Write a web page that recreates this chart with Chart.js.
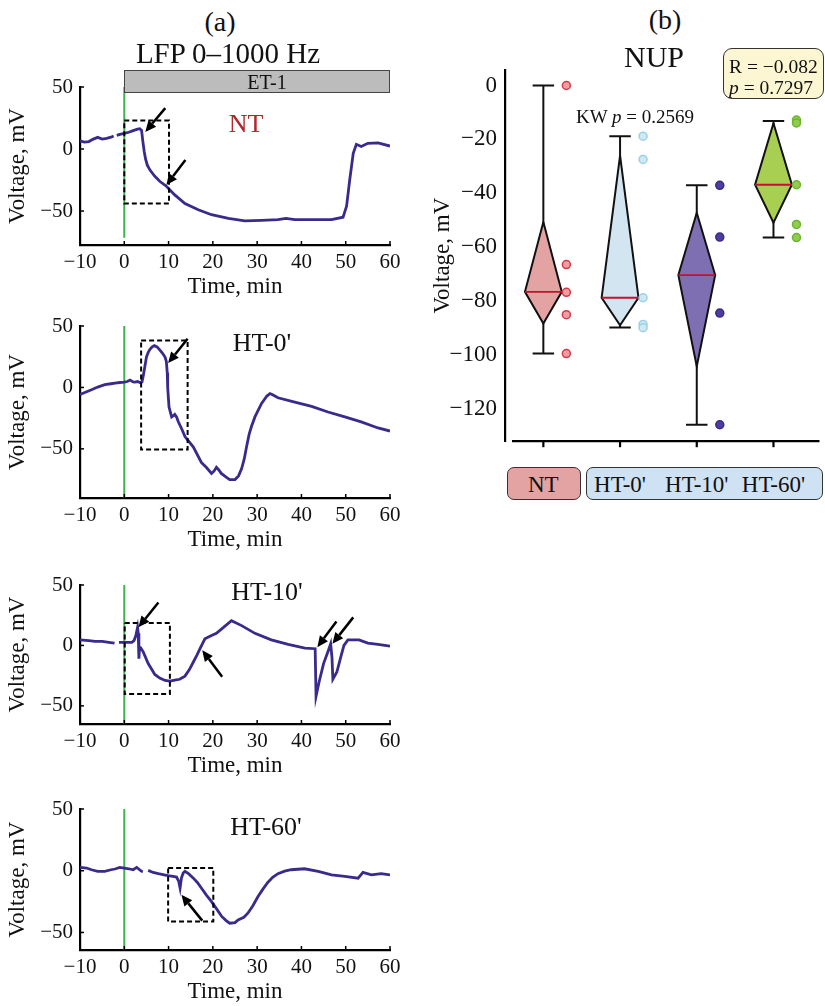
<!DOCTYPE html>
<html><head><meta charset="utf-8">
<script src="https://cdn.jsdelivr.net/npm/chart.js@4.4.1/dist/chart.umd.min.js"></script>
<style>
body{margin:0;width:825px;height:1006px;background:#fff;position:relative;overflow:hidden;font-family:"Liberation Serif","Times New Roman",serif;color:#111;}
canvas{position:absolute;}
.t{position:absolute;transform:translate(-50%,-50%);line-height:1;white-space:nowrap;}
.box{position:absolute;box-sizing:border-box;}
</style></head><body>
<canvas id="pNT" width="415" height="241" style="left:0;top:60px"></canvas>
<canvas id="pHT0" width="415" height="249" style="left:0;top:305px"></canvas>
<canvas id="pHT10" width="415" height="218" style="left:0;top:562px"></canvas>
<canvas id="pHT60" width="415" height="221" style="left:0;top:785px"></canvas>
<canvas id="pB" width="405" height="423" style="left:420px;top:40px"></canvas>

<div class="t" style="left:220px;top:22px;font-size:28px">(a)</div>
<div class="t" style="left:228px;top:53px;font-size:29px">LFP 0–1000 Hz</div>
<div class="box" style="left:124px;top:70px;width:266px;height:23px;background:#bcbcbc;border:1px solid #444"></div>
<div class="t" style="left:267px;top:82px;font-size:20px">ET-1</div>
<div class="t" style="left:246px;top:124px;font-size:26px;color:#b3242b">NT</div>
<div class="t" style="left:262px;top:343px;font-size:26px">HT-0'</div>
<div class="t" style="left:267px;top:592px;font-size:26px">HT-10'</div>
<div class="t" style="left:266px;top:827px;font-size:26px">HT-60'</div>

<div class="t" style="left:665px;top:20px;font-size:28px">(b)</div>
<div class="t" style="left:654px;top:57px;font-size:30px">NUP</div>
<div class="t" style="left:635px;top:116px;font-size:19px">KW <i>p</i> = 0.2569</div>
<div class="box" style="left:723px;top:48px;width:101px;height:51px;background:#fcf6d2;border:1.5px solid #333;border-radius:9px"></div>
<div style="position:absolute;left:729px;top:56px;font-size:19.5px;line-height:21px;white-space:nowrap">R = −0.082<br><i>p</i> = 0.7297</div>
<div class="box" style="left:507px;top:467px;width:74px;height:33px;background:#e3a3a3;border:1.5px solid #333;border-radius:7px"></div>
<div class="box" style="left:586px;top:467px;width:237px;height:33px;background:#cfe2f3;border:1.5px solid #333;border-radius:7px"></div>
<div id="catLabels"></div>

<script>
// ---------- data ----------
const timeTicks = [-10, 0, 10, 20, 30, 40, 50, 60];
const voltTicksA = [-50, 0, 50];
const voltTicksB = [0, -20, -40, -60, -80, -100, -120];

const ntTime = [-10,-9,-8,-7,-6,-5,-4,-3,-2.4,-2.1,-1.7,-1,0,1,2,3,3.5,3.9,4.2,4.5,4.8,5.2,5.8,6.9,8,9.5,11.4,13.7,16.7,19.7,23.5,27.2,31,34.7,36.5,38.5,42.3,46.8,49.4,50.2,50.9,51.7,52.4,53.5,55,57.3,60];
const ntVolt = [6.5,5.5,6,8,9.4,8,8.6,9.5,10.5,null,11,11.8,12.6,13.5,14.8,16,16.4,15,6,-2,-8,-13,-17,-22,-26,-30,-37,-44,-49,-53,-56,-58,-57.5,-57,-56,-57,-57,-57,-55,-46,-25,-3.5,3.8,2,4.6,5,2.4];

const ht0Time = [-10,-8.5,-7.4,-6,-4.4,-3,-2.1,-1,0,0.7,1.3,2,2.4,3,3.5,4,4.3,4.7,5,5.4,5.8,6.3,6.8,7.4,8,8.6,9.2,9.5,9.7,9.8,10.1,10.7,11.1,11.4,11.8,12.2,13,13.7,15.6,17.4,18.5,19.7,20.3,20.8,21.3,21.9,23,23.8,25,25.8,26.5,27.1,27.6,28.2,28.7,29.5,31,32.2,32.9,33.5,34.7,38.5,42.3,46,49.8,53.5,57.3,60];
const ht0Volt = [-5.7,-3.5,-1.9,0.3,2.2,3,3.5,4,4.3,4.8,6,4.5,4.3,4.8,4,4.5,9.8,18,24.7,28.5,31,33,34,33,30.6,28,24.7,21,12,0,-16,-24,-23,-22,-24,-28,-34,-40,-48.5,-61,-65,-70,-68,-65,-67,-70,-73,-75,-75,-72,-66,-58,-48.5,-38,-32,-24,-13,-7,-5,-6,-8.4,-12,-15.4,-20,-24,-28,-33,-35.5];

const ht10Time = [-10,-8,-6.6,-5,-3.5,-2.2,-1.7,-1.2,0,1,1.7,2.2,2.6,3.0,3.15,3.3,3.45,3.7,4.3,5.4,6.9,8,9.2,10.3,11.4,12.5,13.7,14.7,15.6,16.4,17.1,18.2,19.7,20.8,22,24.2,26.5,29.5,33.2,37,40.8,43.1,43.3,44,45,46,46.6,46.9,47.1,48,49,49.6,50.5,53,55,57.3,60];
const ht10Volt = [4.6,4,3.3,3.3,2.5,1.9,null,2.5,2.5,2.5,2.5,4,8,15,10,-11,-1.4,-2,-5.5,-15,-24,-27,-29,-29.5,-28.7,-28,-25.4,-20,-13.7,-8,-2.7,5.5,8.2,10,13.7,20.5,16.4,10,4.6,0.8,-2.2,-2.7,-42,-30,-15,-5,1.4,-10,-28,-22,-8,0,4.6,4.6,1.9,0.8,-0.6];

const ht60Time = [-10,-8.5,-7.4,-6,-4.4,-3,-2.1,-1,0,1,2,2.8,3.9,4.2,4.8,5.4,6.5,7.7,9,9.9,11,11.8,12.3,12.6,12.9,13.3,13.7,14.5,15.6,16.5,17.4,18.5,19.7,21,22,23,23.8,25,25.7,27,27.9,29,30.2,31.3,32.4,33.5,34.7,36.2,37.7,40.7,43.8,46.8,49.8,52.8,53.9,55.8,58,60];
const ht60Volt = [2.7,2.2,0.8,-0.5,-0.5,0.8,1.4,2.7,2.2,1.6,0.8,2.7,-0.5,-0.8,null,0.3,-1.4,-2.4,-3.3,-4,-4.6,-5.1,-8.7,-14,-6,-1.9,-0.5,-2.4,-6,-9.5,-14,-19.5,-25,-31.7,-37,-40.4,-42.5,-42,-39.8,-37.7,-34.4,-28.5,-20.9,-14.9,-9.5,-5.4,-2.4,-0.3,0.8,1.6,-0.5,-3.3,-4.6,-6,-1.4,-3.3,-2.4,-3.3];

const groups = ["NT", "HT-0'", "HT-10'", "HT-60'"];
const diamondTop    = [-50.6, -26.0, -47.2, -14.0];
const diamondMedian = [-76.5, -78.7, -70.3, -36.8];
const diamondBottom = [-88.3, -88.9, -104.2, -50.9];
const whiskerTop    = [0, -18.8, -37.0, -13.2];
const whiskerBottom = [-99.4, -89.7, -125.8, -56.4];
const groupPoints = [
  [0, -66.4, -76.7, -85.0, -99.4],
  [-18.8, -27.4, -78.7, -88.6, -89.8],
  [-37.0, -56.2, -84.4, -125.8],
  [-12.8, -13.9, -36.8, -51.5, -56.4]
];

// ---------- styles ----------
const F = "'Liberation Serif','Times New Roman',serif";
const TRACE = '#3b2a8c';
const GREEN = '#3cb44b';
const fills   = ['#e3a3a3', '#d2e5f0', '#7d6fb2', '#a8cf52'];
const ptFill  = ['#ef9ea4', '#cfe9f4', '#4d3d9e', '#8fcd4c'];
const ptEdge  = ['#d23a46', '#9dd0e6', '#3a2a8a', '#6cb534'];
Chart.defaults.font.family = F;
Chart.defaults.color = '#111';

const fmt = v => v < 0 ? '\u2212' + (-v) : String(v);

function drawArrow(ctx, x1, y1, x2, y2) {
  const a = Math.atan2(y2 - y1, x2 - x1), L = 11, W = 5;
  const bx = x2 - L * Math.cos(a), by = y2 - L * Math.sin(a);
  ctx.strokeStyle = '#000'; ctx.fillStyle = '#000'; ctx.lineWidth = 2.5;
  ctx.beginPath(); ctx.moveTo(x1, y1); ctx.lineTo(bx, by); ctx.stroke();
  ctx.beginPath(); ctx.moveTo(x2, y2);
  ctx.lineTo(bx - W * Math.sin(a), by + W * Math.cos(a));
  ctx.lineTo(bx + W * Math.sin(a), by - W * Math.cos(a));
  ctx.closePath(); ctx.fill();
}

function tracePanel(id, time, volt, cfg) {
  const pts = time.map((t, i) => ({x: t, y: volt[i]}));
  const b = cfg.box;
  const boxPts = [{x:b[0],y:b[3]},{x:b[1],y:b[3]},{x:b[1],y:b[2]},{x:b[0],y:b[2]},{x:b[0],y:b[3]}];
  const arrows = cfg.arrows;
  new Chart(document.getElementById(id), {
    type: 'line',
    data: { datasets: [
      { data: [{x:0,y:50},{x:0,y:cfg.greenEnd}], borderColor: GREEN, borderWidth: 2, pointRadius: 0, order: 3 },
      { data: pts, borderColor: TRACE, borderWidth: 2.8, pointRadius: 0, spanGaps: false, tension: 0, order: 2 },
      { data: boxPts, borderColor: '#000', borderWidth: 2, borderDash: [5, 3], pointRadius: 0, order: 1 }
    ]},
    options: {
      responsive: false, animation: false,
      layout: { padding: { top: cfg.padTop, right: 25, left: 0, bottom: 0 } },
      plugins: { legend: { display: false }, tooltip: { enabled: false } },
      scales: {
        x: { type: 'linear', min: -10, max: 60,
          afterBuildTicks: s => { s.ticks = timeTicks.map(v => ({value: v})); },
          afterFit: s => { s.height = 56; },
          grid: { display: false, drawTicks: false },
          border: { display: true, color: '#000', width: 2.2 },
          ticks: { font: { size: 21 }, color: '#111', padding: 5, maxRotation: 0, autoSkip: false, callback: fmt },
          title: { display: true, text: 'Time, min', font: { size: 23 }, color: '#111', padding: { top: 0, bottom: 0 } } },
        y: { min: cfg.yMin, max: 50,
          afterBuildTicks: s => { s.ticks = voltTicksA.map(v => ({value: v})); },
          afterFit: s => { s.width = 80; },
          grid: { display: false, drawTicks: false },
          border: { display: true, color: '#000', width: 2.2 },
          ticks: { font: { size: 21 }, color: '#111', padding: 7, callback: fmt },
          title: { display: true, text: 'Voltage, mV', font: { size: 23 }, color: '#111', padding: { top: 4, bottom: 0 } } }
      }
    },
    plugins: [{
      id: 'deco',
      afterDraw(chart) {
        const {ctx, chartArea: a, scales: {x, y}} = chart;
        ctx.save();
        ctx.strokeStyle = '#000'; ctx.lineWidth = 1.5;
        timeTicks.forEach(v => { const p = x.getPixelForValue(v); ctx.beginPath(); ctx.moveTo(p, a.bottom); ctx.lineTo(p, a.bottom - 4); ctx.stroke(); });
        voltTicksA.forEach(v => { const p = y.getPixelForValue(v); ctx.beginPath(); ctx.moveTo(a.left, p); ctx.lineTo(a.left + 4, p); ctx.stroke(); });
        arrows.forEach(r => drawArrow(ctx, x.getPixelForValue(r[0]), y.getPixelForValue(r[1]), x.getPixelForValue(r[2]), y.getPixelForValue(r[3])));
        ctx.restore();
      }
    }]
  });
}

tracePanel('pNT', ntTime, ntVolt, { padTop: 27, yMin: -77.4, greenEnd: -71.5,
  box: [0, 10.1, -44, 23], arrows: [[9.25, 33, 4.74, 13.7], [13.8, -8.9, 9.5, -29]] });
tracePanel('pHT0', ht0Time, ht0Volt, { padTop: 21, yMin: -90, greenEnd: -90,
  box: [3.8, 14.3, -50.5, 38.2], arrows: [[14.3, 39.6, 9.9, 19.8]] });
tracePanel('pHT10', ht10Time, ht10Volt, { padTop: 23, yMin: -65, greenEnd: -65,
  box: [0.1, 10.3, -40.2, 18.6], arrows: [[7.7, 35.5, 3.2, 15], [22.1, -26, 17.6, -4], [47.9, 19.9, 43.6, -1.4], [51.7, 23.2, 47, 1.4]] });
tracePanel('pHT60', ht60Time, ht60Volt, { padTop: 24, yMin: -64.2, greenEnd: -64.2,
  box: [9.9, 20.1, -41.2, 2.2], arrows: [[17.6, -40.4, 12.9, -19.5]] });

// ---------- panel (b) ----------
const HW = 0.24, CAP = 0.14, POFF = 0.3;
const dsB = [];
groups.forEach((g, i) => {
  dsB.push({ data: [
      {x:i-CAP,y:whiskerTop[i]},{x:i+CAP,y:whiskerTop[i]},{x:i,y:null},
      {x:i,y:whiskerTop[i]},{x:i,y:whiskerBottom[i]},{x:i,y:null},
      {x:i-CAP,y:whiskerBottom[i]},{x:i+CAP,y:whiskerBottom[i]}],
    showLine: true, spanGaps: false, borderColor: '#111', borderWidth: 2, pointRadius: 0, order: 4 });
  dsB.push({ data: [
      {x:i,y:diamondTop[i]},{x:i+HW,y:diamondMedian[i]},{x:i,y:diamondBottom[i]},{x:i-HW,y:diamondMedian[i]},{x:i,y:diamondTop[i]}],
    showLine: true, fill: 'shape', backgroundColor: fills[i], borderColor: '#111', borderWidth: 2, pointRadius: 0, order: 3 });
  dsB.push({ data: [{x:i-HW,y:diamondMedian[i]},{x:i+HW,y:diamondMedian[i]}],
    showLine: true, borderColor: '#c8102e', borderWidth: 1.8, pointRadius: 0, order: 2 });
  dsB.push({ data: groupPoints[i].map(v => ({x: i + POFF, y: v})),
    showLine: false, pointRadius: 4, pointBorderWidth: 1.5, pointBackgroundColor: ptFill[i], pointBorderColor: ptEdge[i], order: 1 });
});

new Chart(document.getElementById('pB'), {
  type: 'scatter',
  data: { datasets: dsB },
  options: {
    responsive: false, animation: false,
    layout: { padding: { top: 30, right: 5, left: 0, bottom: 0 } },
    plugins: { legend: { display: false }, tooltip: { enabled: false } },
    scales: {
      x: { type: 'linear', min: -0.5, max: 3.6,
        afterBuildTicks: s => { s.ticks = groups.map((g, i) => ({value: i})); },
        afterFit: s => { s.height = 10; },
        grid: { display: false, drawTicks: false }, border: { display: false },
        ticks: { display: false } },
      y: { min: -131.9, max: 5.75,
        afterBuildTicks: s => { s.ticks = voltTicksB.map(v => ({value: v})); },
        afterFit: s => { s.width = 85; },
        grid: { display: false, drawTicks: false },
        border: { display: true, color: '#000', width: 2.2 },
        ticks: { font: { size: 23 }, color: '#111', padding: 8, callback: fmt },
        title: { display: true, text: 'Voltage, mV', font: { size: 23 }, color: '#111', padding: { top: 9, bottom: 0 } } }
    }
  },
  plugins: [{
    id: 'xaxisB',
    afterDraw(chart) {
      const {ctx, chartArea: a, scales: {x}} = chart;
      ctx.save();
      ctx.strokeStyle = '#000'; ctx.lineWidth = 2.2;
      ctx.beginPath(); ctx.moveTo(a.left + 7, a.bottom); ctx.lineTo(a.right, a.bottom); ctx.stroke();
      groups.forEach((g, i) => { const p = x.getPixelForValue(i); ctx.beginPath(); ctx.moveTo(p, a.bottom); ctx.lineTo(p, a.bottom + 6); ctx.stroke(); });
      ctx.restore();
      const host = document.getElementById('catLabels');
      if (!host.childElementCount) {
        const ox = chart.canvas.offsetLeft;
        groups.forEach((g, i) => {
          const d = document.createElement('div');
          d.className = 't'; d.textContent = g;
          d.style.left = (ox + x.getPixelForValue(i)) + 'px'; d.style.top = '484px'; d.style.fontSize = '23px';
          host.appendChild(d);
        });
      }
    }
  }]
});
</script>
</body></html>
